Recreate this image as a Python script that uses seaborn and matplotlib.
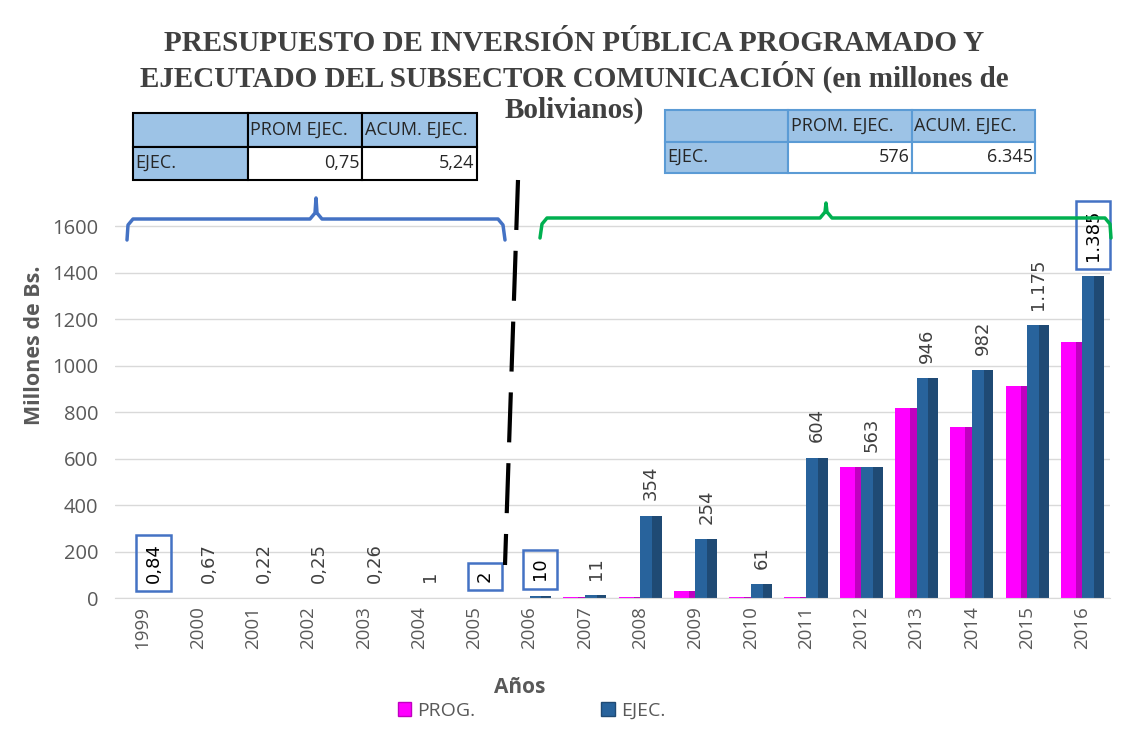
import seaborn as sns
import matplotlib.pyplot as plt
import pandas as pd
from matplotlib.patches import Patch, Rectangle

# datos
anios = ["1999", "2000", "2001", "2002", "2003", "2004", "2005", "2006", "2007",
         "2008", "2009", "2010", "2011", "2012", "2013", "2014", "2015", "2016"]
prog = [0, 0, 0, 0, 0, 0, 0, 0, 5, 3, 32, 4, 3, 565, 818, 737, 912, 1102]
ejec = [0.84, 0.67, 0.22, 0.25, 0.26, 1, 2, 10, 11, 354, 254, 61, 604, 563,
        946, 982, 1175, 1385]
series = ["PROG.", "EJEC."]
con_recuadro = ["1999", "2005", "2006", "2016"]

tabla_izq_cab = ["", "PROM EJEC.", "ACUM. EJEC."]
tabla_izq_fila = ["EJEC.", "0,75", "5,24"]
tabla_der_cab = ["", "PROM. EJEC.", "ACUM. EJEC."]
tabla_der_fila = ["EJEC.", "576", "6.345"]

titulo = ("PRESUPUESTO DE INVERSIÓN PÚBLICA PROGRAMADO Y\n"
          "EJECUTADO DEL SUBSECTOR COMUNICACIÓN (en millones de\n"
          "Bolivianos)")

rosa, rosa_osc = "#FF00FF", "#C000C0"
azul, azul_osc = "#28639C", "#1F4A74"
gris = "#595959"

df = pd.DataFrame({
    "anio": anios * 2,
    "serie": [series[0]] * len(anios) + [series[1]] * len(anios),
    "valor": prog + ejec,
})


def formato(v):
    if v < 1:
        return f"{v:.2f}".replace(".", ",")
    return f"{v:,.0f}".replace(",", ".")


sns.set_style("white")
plt.rcParams["font.family"] = ["DejaVu Sans"]

fig = plt.figure(figsize=(11.4, 7.32), dpi=100)
ax = fig.add_axes([115 / 1140, 1 - 598 / 732, 995 / 1140, 395 / 732])

sns.barplot(data=df, x="anio", y="valor", hue="serie", palette=[rosa, azul],
            width=0.78, ax=ax, legend=False, saturation=1)

# sombreado lateral para imitar el bisel
for cont, osc, frac in zip(ax.containers, [rosa_osc, azul_osc], [0.3, 0.45]):
    for p in cont.patches:
        p.set_edgecolor("none")
        w = p.get_width() * frac
        ax.add_patch(Rectangle((p.get_x() + p.get_width() - w, p.get_y()), w,
                               p.get_height(), fc=osc, ec="none", lw=0))

for p, anio, v in zip(ax.containers[1].patches, anios, ejec):
    caja = None
    if anio in con_recuadro:
        caja = dict(boxstyle="square,pad=0.45", fc="none", ec="#4472C4", lw=1.8)
    ax.annotate(formato(v), (p.get_x() + p.get_width() / 2, p.get_height()),
                xytext=(0, 11), textcoords="offset points",
                rotation=90, ha="center", va="bottom", fontsize=13,
                color="black" if caja else "#404040", bbox=caja)

ax.set_ylim(0, 1700)
ax.set_yticks(range(0, 1601, 200))
ax.yaxis.grid(True, color="#D9D9D9", lw=1)
ax.set_axisbelow(True)
for s in ["top", "right", "left"]:
    ax.spines[s].set_visible(False)
ax.spines["bottom"].set_color("#D9D9D9")
ax.tick_params(axis="x", rotation=90, labelsize=13.5, colors=gris, length=0, pad=6)
ax.tick_params(axis="y", labelsize=14.5, colors=gris, length=0, pad=12)
for lab in ax.get_xticklabels() + ax.get_yticklabels():
    lab.set_family("Open Sans")
ax.set_xlabel("Años", fontsize=15, fontweight="bold", color=gris, family="Open Sans")
ax.set_ylabel("Millones de Bs.", fontsize=15.5, fontweight="bold", color=gris,
              family="Open Sans")
ax.xaxis.set_label_coords(0.407, -0.2)
ax.yaxis.set_label_coords(-0.07, 0.64)

fig.text(0.504, 1 - 30 / 732, titulo, ha="center", va="top", fontsize=21,
         fontweight="bold", color="#404040", family="Liberation Serif",
         linespacing=1.15)

fig.legend(handles=[Patch(fc=rosa, ec=rosa_osc), Patch(fc=azul, ec=azul_osc)],
           labels=series, loc="center left", bbox_to_anchor=(380 / 1140, 1 - 711 / 732),
           ncol=2, frameon=False, columnspacing=6.5, handlelength=0.7,
           handleheight=0.7, handletextpad=0.3,
           prop={"size": 14, "family": "Open Sans"}, labelcolor=gris)

# capa de anotaciones en pixeles
over = fig.add_axes([0, 0, 1, 1], facecolor="none")
over.set_xlim(0, 1140)
over.set_ylim(732, 0)
over.axis("off")


def tabla(cab, fila, x0, y0, x1, y1, borde):
    t = over.table(cellText=[cab, fila], cellLoc="left",
                   bbox=[x0 / 1140, 1 - y1 / 732, (x1 - x0) / 1140, (y1 - y0) / 732])
    t.auto_set_font_size(False)
    for (r, c), cell in t.get_celld().items():
        cell.set_edgecolor(borde)
        cell.set_linewidth(1.5)
        cell.set_facecolor("#9DC3E6" if r == 0 or c == 0 else "white")
        cell.get_text().set_fontsize(13)
        cell.get_text().set_family("Open Sans")
        cell.get_text().set_color("#262626")
        cell.PAD = 0.02
        if r == 1 and c > 0:
            cell.get_text().set_ha("right")
            cell._loc = "right"


tabla(tabla_izq_cab, tabla_izq_fila, 133, 113, 477, 180, "black")
tabla(tabla_der_cab, tabla_der_fila, 665, 110, 1035, 173, "#5B9BD5")

# llaves y linea divisoria
over.plot([127, 128, 133, 310, 315, 316, 317, 322, 498, 503, 505],
          [240, 225, 219, 219, 213, 198, 213, 219, 219, 225, 240],
          color="#4472C4", lw=2.5)
over.plot([540, 542, 547, 820, 825, 826, 827, 832, 1105, 1110, 1111],
          [238, 224, 218, 218, 212, 203, 212, 218, 218, 224, 238],
          color="#00B050", lw=2.5)
over.plot([518, 505], [180, 565], color="black", lw=3, dashes=(12, 5))

fig.savefig("out.png", dpi=100)
